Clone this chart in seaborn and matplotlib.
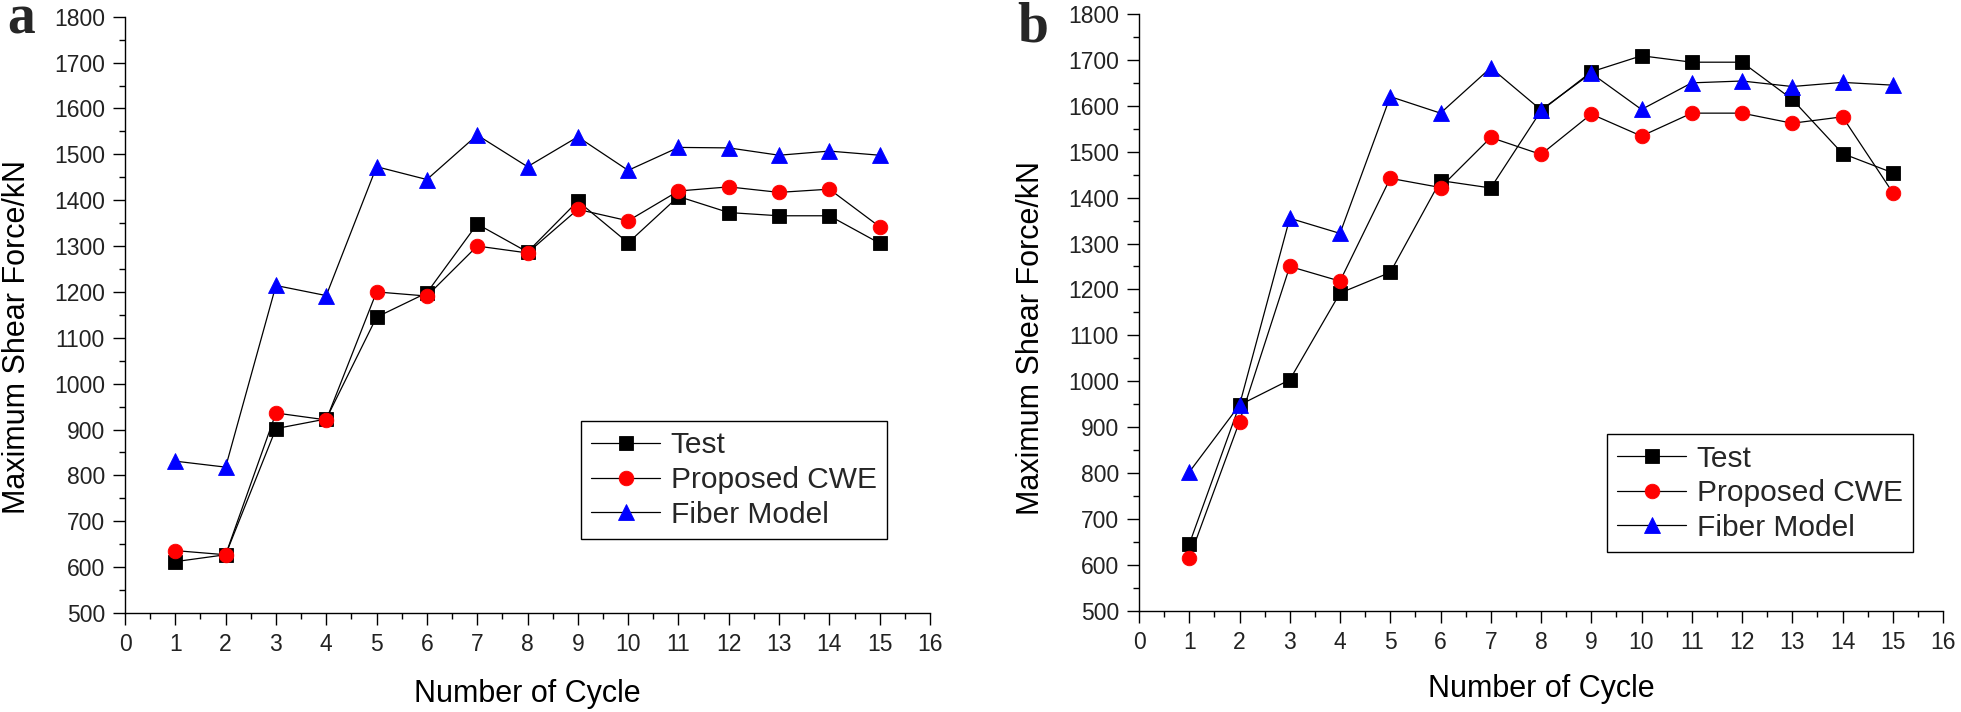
import matplotlib
matplotlib.use("Agg")
import matplotlib.pyplot as plt
from matplotlib.ticker import MultipleLocator
import seaborn as sns
import pandas as pd

# ---- data ----
cycles = list(range(1, 16))

a_test = [612, 627, 902, 923, 1145, 1198, 1348, 1287, 1398, 1307, 1408, 1373, 1366, 1366, 1306]
a_cwe = [636, 627, 936, 921, 1200, 1191, 1300, 1285, 1380, 1355, 1420, 1429, 1417, 1424, 1342]
a_fiber = [831, 818, 1214, 1192, 1473, 1445, 1542, 1473, 1538, 1465, 1515, 1514, 1498, 1507, 1498]

b_test = [645, 948, 1003, 1192, 1237, 1437, 1421, 1589, 1674, 1709, 1695, 1695, 1614, 1496, 1454]
b_cwe = [614, 912, 1250, 1218, 1442, 1422, 1531, 1494, 1582, 1534, 1584, 1584, 1562, 1576, 1411]
b_fiber = [802, 948, 1355, 1322, 1620, 1584, 1683, 1591, 1671, 1592, 1650, 1654, 1642, 1651, 1645]

series_names = ["Test", "Proposed CWE", "Fiber Model"]
panel_letters = ["a", "b"]
x_label = "Number of Cycle"
y_label = "Maximum Shear Force/kN"

# ---- style ----
sns.set_style("ticks")
plt.rcParams["font.family"] = ["Liberation Sans", "DejaVu Sans"]
plt.rcParams["axes.linewidth"] = 1.0

W, H = 1961, 712
fig = plt.figure(figsize=(W / 100, H / 100), dpi=100)

def frac_box(l, r, t, b):
    return [l / W, 1 - b / H, (r - l) / W, (b - t) / H]

ax_a = fig.add_axes(frac_box(125, 930, 16.7, 613))
ax_b = fig.add_axes(frac_box(1139, 1943, 14, 610.7))

styles = [
    dict(marker="s", color="black", markerfacecolor="black", markeredgecolor="black", markersize=10),
    dict(marker="o", color="black", markerfacecolor="#ff0000", markeredgecolor="#ff0000", markersize=10.5),
    dict(marker="^", color="black", markerfacecolor="#0000ff", markeredgecolor="#0000ff", markersize=11.5),
]

def draw(ax, data_list, legend_anchor):
    for name, vals, st in zip(series_names, data_list, styles):
        df = pd.DataFrame({"cycle": cycles, "force": vals})
        sns.lineplot(data=df, x="cycle", y="force", ax=ax, label=name,
                     linewidth=0.9, markeredgewidth=0.6, **st)
    ax.set_xlim(0, 16)
    ax.set_ylim(500, 1800)
    ax.xaxis.set_major_locator(MultipleLocator(1))
    ax.xaxis.set_minor_locator(MultipleLocator(0.5))
    ax.yaxis.set_major_locator(MultipleLocator(100))
    ax.yaxis.set_minor_locator(MultipleLocator(50))
    for s in ["top", "right"]:
        ax.spines[s].set_visible(False)
    for s in ["left", "bottom"]:
        ax.spines[s].set_color("black")
    ax.tick_params(axis="both", which="major", direction="out", length=8.5, width=1.0,
                   labelsize=16.5, labelcolor="#222222", color="black")
    ax.tick_params(axis="both", which="minor", direction="out", length=4.5, width=1.0, color="black")
    ax.tick_params(axis="x", which="major", pad=6)
    ax.tick_params(axis="y", which="major", pad=6)
    ax.set_xlabel("")
    ax.set_ylabel("")
    leg = ax.legend(loc="upper left", bbox_to_anchor=legend_anchor, borderaxespad=0,
                    fontsize=21.5, frameon=True, fancybox=False, framealpha=1,
                    edgecolor="black", handlelength=2.3, handletextpad=0.35,
                    labelspacing=0.22, borderpad=0.35)
    leg.get_frame().set_linewidth(1.0)

draw(ax_a, [a_test, a_cwe, a_fiber], (0.5665, 0.322))
draw(ax_b, [b_test, b_cwe, b_fiber], (0.582, 0.296))

# axis labels
fig.text(17 / W, 1 - 337.5 / H, y_label, rotation=90, ha="center", va="center", fontsize=22, color="black")
fig.text(1031 / W, 1 - 338 / H, y_label, rotation=90, ha="center", va="center", fontsize=22, color="black")
fig.text(527 / W, 1 - 702 / H, x_label, ha="center", va="baseline", fontsize=22, color="black")
fig.text(1541 / W, 1 - 697 / H, x_label, ha="center", va="baseline", fontsize=22, color="black")

# panel letters
fig.text(7 / W, 1 - 34 / H, panel_letters[0], ha="left", va="baseline", fontsize=40,
         fontweight="bold", family=["Liberation Serif", "DejaVu Serif"])
fig.text(1017 / W, 1 - 42 / H, panel_letters[1], ha="left", va="baseline", fontsize=40,
         fontweight="bold", family=["Liberation Serif", "DejaVu Serif"])

fig.savefig("out.png", dpi=100, facecolor="white")
